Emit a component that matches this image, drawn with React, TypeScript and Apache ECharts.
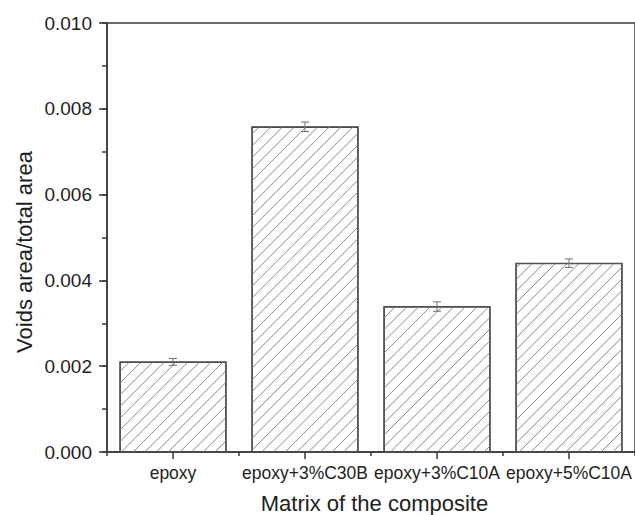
import React, { useEffect, useRef } from "react";
import * as echarts from "echarts";

const categories = ["epoxy", "epoxy+3%C30B", "epoxy+3%C10A", "epoxy+5%C10A"];
const voidRatio = [0.0021, 0.00758, 0.00339, 0.0044];
const voidError = [0.00008, 0.00011, 0.00011, 0.0001];
const yMin = 0;
const yMax = 0.01;
const yInterval = 0.002;
const yMinorInterval = 0.001;
const xTitle = "Matrix of the composite";
const yTitle = "Voids area/total area";

const BAR_FRAC = 0.806;
const HATCH_STEP = 11.7;
const AXIS_COLOR = "#3a3a3a";
const TEXT_COLOR = "#1e1e1e";
const FONT = "'Liberation Sans', Arial, sans-serif";

export default function App() {
  const ref = useRef<HTMLDivElement>(null);
  useEffect(() => {
    if (!ref.current) return;
    const chart = echarts.init(ref.current, undefined, { renderer: "svg" });

    const hatchRender = (params: any, api: any) => {
      const xi = api.value(0);
      const v = api.value(1);
      const base = api.coord([xi, 0]);
      const top = api.coord([xi, v]);
      const bw = api.size([1, 0])[0] * BAR_FRAC;
      const x0 = base[0] - bw / 2;
      const x1 = base[0] + bw / 2;
      const y0 = top[1];
      const y1 = base[1];
      const children: any[] = [];
      const kStart = Math.ceil((x0 + y0) / HATCH_STEP) * HATCH_STEP;
      for (let k = kStart; k < x1 + y1; k += HATCH_STEP) {
        const xa = Math.max(x0, k - y1);
        const xb = Math.min(x1, k - y0);
        if (xb - xa > 0.5) {
          children.push({
            type: "line",
            shape: { x1: xa, y1: k - xa, x2: xb, y2: k - xb },
            style: { stroke: "#8a8a8a", lineWidth: 1 },
          });
        }
      }
      children.push({
        type: "rect",
        shape: { x: x0, y: y0, width: bw, height: y1 - y0 },
        style: { fill: "none", stroke: "#4a4a4a", lineWidth: 1.1 },
      });
      return { type: "group", children };
    };

    const errRender = (params: any, api: any) => {
      const xi = api.value(0);
      const v = api.value(1);
      const e = api.value(2);
      const hi = api.coord([xi, v + e]);
      const lo = api.coord([xi, v - e]);
      const h = 4;
      const st = { stroke: "#707070", lineWidth: 1 };
      return {
        type: "group",
        children: [
          { type: "line", shape: { x1: hi[0], y1: hi[1], x2: lo[0], y2: lo[1] }, style: st },
          { type: "line", shape: { x1: hi[0] - h, y1: hi[1], x2: hi[0] + h, y2: hi[1] }, style: st },
          { type: "line", shape: { x1: lo[0] - h, y1: lo[1], x2: lo[0] + h, y2: lo[1] }, style: st },
        ],
      };
    };

    chart.setOption({
      animation: false,
      backgroundColor: "#ffffff",
      textStyle: { fontFamily: FONT },
      grid: {
        left: 107,
        top: 23,
        width: 535,
        height: 429,
        show: true,
        borderColor: AXIS_COLOR,
        borderWidth: 1.5,
        backgroundColor: "transparent",
      },
      xAxis: [
        {
          type: "category",
          data: categories,
          position: "bottom",
          boundaryGap: true,
          axisLine: { show: true, lineStyle: { color: AXIS_COLOR, width: 1.5 } },
          axisTick: { show: true, alignWithLabel: true, inside: false, length: 7, lineStyle: { color: AXIS_COLOR, width: 1.5 } },
          axisLabel: { show: true, margin: 12, color: TEXT_COLOR, fontSize: 17.5, fontFamily: FONT, interval: 0 },
          splitLine: { show: false },
        },
        {
          type: "category",
          data: categories,
          position: "bottom",
          boundaryGap: true,
          axisLine: { show: false },
          axisTick: { show: true, alignWithLabel: false, inside: false, length: 4, interval: 0, lineStyle: { color: AXIS_COLOR, width: 1.5 } },
          axisLabel: { show: false },
          splitLine: { show: false },
        },
      ],
      yAxis: [
        {
          type: "value",
          min: yMin,
          max: yMax,
          interval: yInterval,
          position: "left",
          axisLine: { show: true, lineStyle: { color: AXIS_COLOR, width: 1.5 } },
          axisTick: { show: true, inside: false, length: 8, lineStyle: { color: AXIS_COLOR, width: 1.5 } },
          axisLabel: {
            margin: 15,
            color: TEXT_COLOR,
            fontSize: 19,
            fontFamily: FONT,
            formatter: (v: number) => v.toFixed(3),
          },
          splitLine: { show: false },
        },
        {
          type: "value",
          min: yMin,
          max: yMax,
          interval: yMinorInterval,
          position: "left",
          offset: 0,
          axisLine: { show: false },
          axisTick: { show: true, inside: false, length: 5, lineStyle: { color: AXIS_COLOR, width: 1.5 } },
          axisLabel: { show: false },
          splitLine: { show: false },
        },
      ],
      graphic: [
        {
          type: "text",
          x: 374.5,
          y: 503,
          style: {
            text: xTitle,
            fill: TEXT_COLOR,
            font: `22px ${FONT}`,
            align: "center",
            verticalAlign: "middle",
          },
        },
        {
          type: "text",
          x: 24,
          y: 252,
          rotation: Math.PI / 2,
          style: {
            text: yTitle,
            fill: TEXT_COLOR,
            font: `22px ${FONT}`,
            align: "center",
            verticalAlign: "middle",
          },
        },
      ],
      series: [
        {
          type: "bar",
          name: "bars",
          xAxisIndex: 0,
          yAxisIndex: 0,
          data: voidRatio,
          barWidth: `${BAR_FRAC * 100}%`,
          itemStyle: { color: "#ffffff", borderColor: "#4a4a4a", borderWidth: 1.1 },
          z: 2,
        },
        {
          type: "custom",
          name: "hatch",
          xAxisIndex: 0,
          yAxisIndex: 0,
          renderItem: hatchRender,
          data: voidRatio.map((v, i) => [i, v]),
          z: 3,
          silent: true,
        },
        {
          type: "custom",
          name: "error",
          xAxisIndex: 0,
          yAxisIndex: 0,
          renderItem: errRender,
          data: voidRatio.map((v, i) => [i, v, voidError[i]]),
          z: 4,
          silent: true,
        },
      ],
    });
    return () => chart.dispose();
  }, []);
  return (
    <div
      ref={ref}
      style={{ position: "fixed", left: 0, top: 0, width: 635, height: 515, background: "#fff" }}
    />
  );
}
